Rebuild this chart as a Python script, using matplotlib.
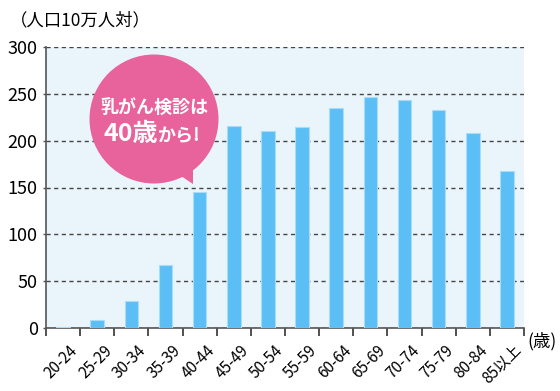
import numpy as np
import matplotlib
matplotlib.use('Agg')
import matplotlib.pyplot as plt
from matplotlib.patches import Circle, Polygon

plt.rcParams['font.family'] = ['Noto Sans CJK JP', 'DejaVu Sans']

ages = ['20-24', '25-29', '30-34', '35-39', '40-44', '45-49', '50-54',
        '55-59', '60-64', '65-69', '70-74', '75-79', '80-84', '85以上']
rates = [1.5, 8.5, 28.6, 66.8, 145.3, 215.2, 210.6,
         214.1, 234.9, 246.7, 243.8, 233.1, 208.1, 167.8]

fig = plt.figure(figsize=(5.6, 3.91), dpi=100)
ax = fig.add_axes([46 / 560, 1 - 328 / 391, 478 / 560, 281 / 391])
ax.set_facecolor('#eaf5fb')

ind = np.arange(len(ages))
ax.bar(ind, rates, 0.4, color='#5bbff6', edgecolor='#a8dcfa', linewidth=0.8, zorder=3)

ax.set_xlim(-0.5, len(ages) - 0.5)
ax.set_ylim(0, 300)
ax.set_yticks(np.arange(0, 301, 50))
ax.yaxis.grid(True, linestyle=(0, (3, 2.5)), color='#444444', linewidth=1.0, zorder=1)
ax.set_axisbelow(True)

for s in ['top', 'right']:
    ax.spines[s].set_visible(False)
for s in ['left', 'bottom']:
    ax.spines[s].set_color('#555555')
    ax.spines[s].set_linewidth(1.2)

# ticks at category boundaries
ax.set_xticks(np.arange(-0.5, len(ages), 1.0))
ax.set_xticklabels([])
ax.tick_params(axis='x', length=6, width=1.2, color='#333333')
ax.tick_params(axis='y', length=2, width=1, color='#555555', labelsize=13, pad=4)

# rotated age labels, ending near the right boundary of each category
for i, lab in enumerate(ages):
    ax.text(i + 0.36, -21, lab, rotation=45, ha='right', va='center',
            rotation_mode='anchor', fontsize=11, transform=ax.transData)

fig.text(10 / 560, 1 - 20 / 391, '（人口10万人対）', fontsize=12.5, va='center', ha='left')
fig.text(527 / 560, 1 - 341 / 391, '(歳)', fontsize=12.5, va='center', ha='left')

# speech bubble
tr = fig.dpi_scale_trans
pink = '#e8629c'
fig.patches.append(Circle((154 / 100, (391 - 119) / 100), 0.645, transform=tr,
                          facecolor=pink, edgecolor='none', zorder=5))
fig.patches.append(Polygon([(172 / 100, (391 - 170) / 100),
                            (193 / 100, (391 - 184) / 100),
                            (193 / 100, (391 - 160) / 100)],
                           closed=True, transform=tr, facecolor=pink,
                           edgecolor='none', zorder=5))
fig.text(154 / 560, 1 - 107 / 391, '乳がん検診は', color='white', fontsize=13,
         fontweight='bold', ha='center', va='center', zorder=6)
fig.text(158 / 560, 1 - 134 / 391, '40歳', color='white', fontsize=18,
         fontweight='bold', ha='right', va='center', zorder=6)
fig.text(157 / 560, 1 - 136 / 391, 'から!', color='white', fontsize=13,
         fontweight='bold', ha='left', va='center', zorder=6)

fig.savefig('out.png', dpi=100)
